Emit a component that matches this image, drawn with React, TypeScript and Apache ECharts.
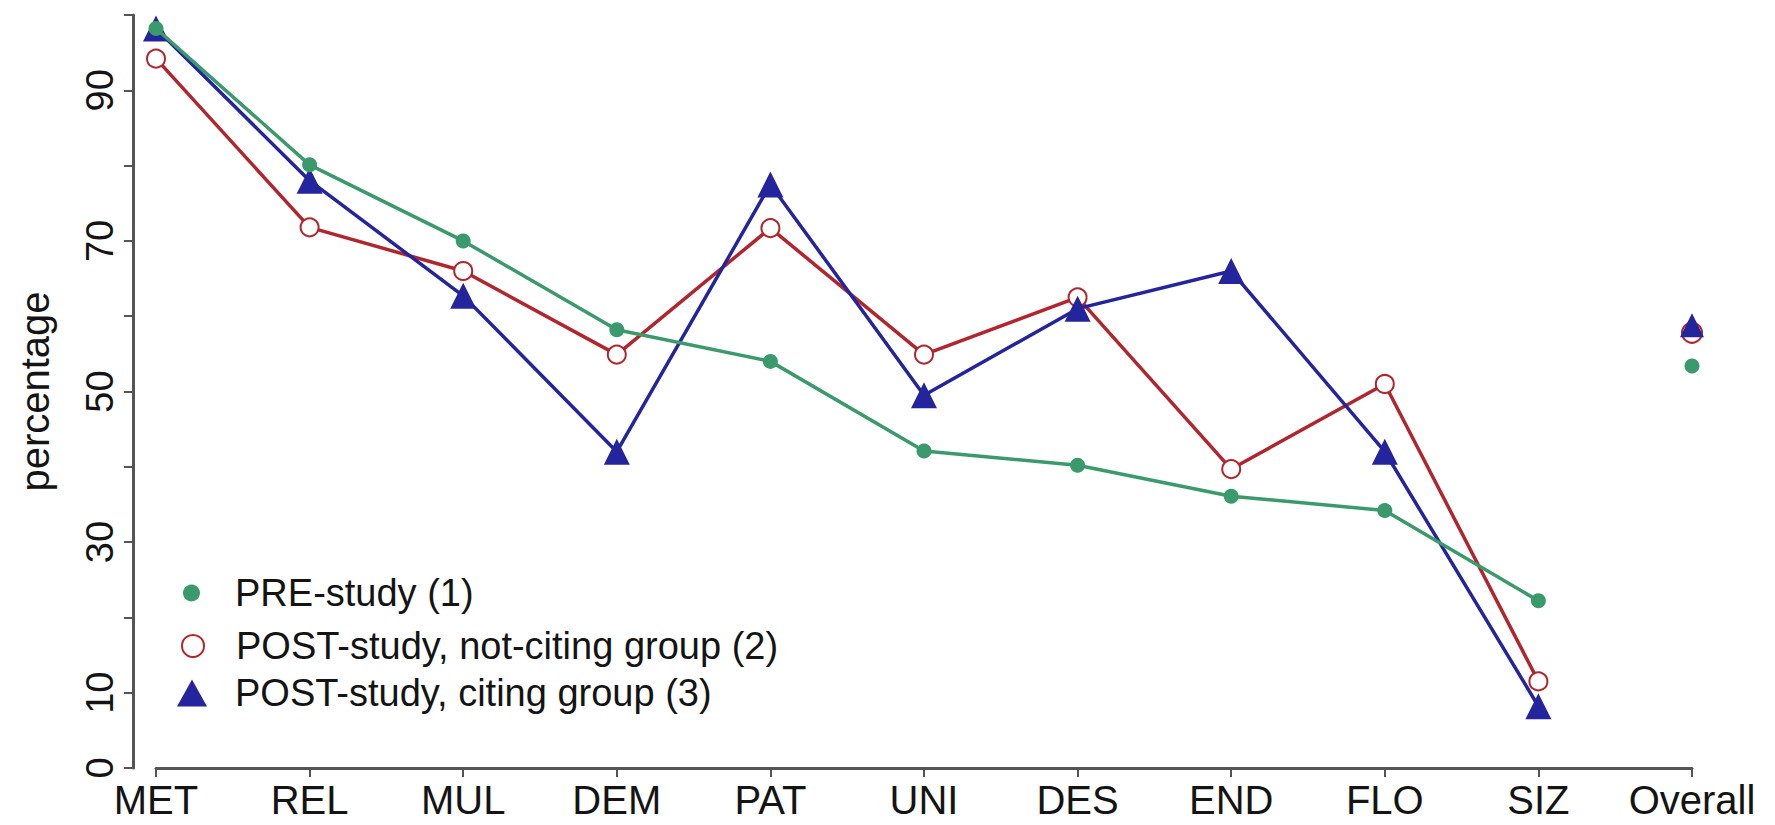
import React, { useEffect, useRef } from "react";
import * as echarts from "echarts";

const categories = ["MET", "REL", "MUL", "DEM", "PAT", "UNI", "DES", "END", "FLO", "SIZ", "Overall"];
const preStudy = [98.2, 80.1, 70.0, 58.2, 54.0, 42.1, 40.2, 36.1, 34.2, 22.2];
const postNotCiting = [94.2, 71.8, 66.0, 54.9, 71.7, 54.9, 62.5, 39.7, 51.0, 11.5];
const postCiting = [98.2, 78.0, 62.7, 42.0, 77.5, 49.5, 61.0, 66.0, 42.0, 8.2];
const overallPre = 53.4;
const overallNotCiting = 57.8;
const overallCiting = 58.8;
const yTickLabels = [0, 10, 30, 50, 70, 90];

const NAME_PRE = "PRE-study (1)";
const NAME_NOT = "POST-study, not-citing group (2)";
const NAME_CIT = "POST-study, citing group (3)";

const GREEN = "#3a9a6b";
const RED = "#b0262c";
const BLUE = "#24249c";
const AXIS = "#555555";
const TEXT = "#141414";
const FONT = "'Liberation Sans', Arial, Helvetica, sans-serif";

export default function App() {
  const ref = useRef<HTMLDivElement>(null);
  useEffect(() => {
    if (!ref.current) return;
    const chart = echarts.init(ref.current, null, { renderer: "svg" });
    const legendText = (pad: number) => ({
      fontSize: 38,
      fontFamily: FONT,
      color: TEXT,
      rich: { a: { fontSize: 38, fontFamily: FONT, color: TEXT, padding: [0, 0, 0, pad] } },
    });
    const option: any = {
      animation: false,
      backgroundColor: "#ffffff",
      textStyle: { fontFamily: FONT },
      grid: { left: 156, right: 83, top: 15, bottom: 57, containLabel: false },
      legend: [
        {
          orient: "vertical",
          left: 178,
          top: 569,
          selectedMode: false,
          itemWidth: 17,
          itemHeight: 17,
          data: [{ name: NAME_PRE, icon: "circle" }],
          itemStyle: { color: GREEN, opacity: 1 },
          formatter: (n: string) => `{a|${n}}`,
          textStyle: legendText(30),
        },
        {
          orient: "vertical",
          left: 176,
          top: 622,
          selectedMode: false,
          itemWidth: 22,
          itemHeight: 26,
          data: [{ name: NAME_NOT, icon: "emptyCircle" }],
          itemStyle: { color: RED, borderColor: RED, borderWidth: 3, opacity: 1 },
          formatter: (n: string) => `{a|${n}}`,
          textStyle: legendText(27),
        },
        {
          orient: "vertical",
          left: 172,
          top: 669,
          selectedMode: false,
          itemWidth: 30,
          itemHeight: 27,
          data: [{ name: NAME_CIT, icon: "triangle" }],
          itemStyle: { color: BLUE, opacity: 1 },
          formatter: (n: string) => `{a|${n}}`,
          textStyle: legendText(23),
        },
      ],
      xAxis: {
        type: "category",
        data: categories,
        boundaryGap: false,
        axisLine: { show: true, lineStyle: { color: AXIS, width: 3 } },
        axisTick: { show: true, interval: 0, length: 9, lineStyle: { color: AXIS, width: 2 } },
        axisLabel: { interval: 0, fontSize: 40, color: TEXT, fontFamily: FONT, margin: 12 },
        splitLine: { show: false },
      },
      yAxis: {
        type: "value",
        min: 0,
        max: 100,
        interval: 10,
        offset: 23,
        name: "percentage",
        nameLocation: "middle",
        nameRotate: 90,
        nameGap: 78,
        nameTextStyle: { fontSize: 40, color: TEXT, fontFamily: FONT },
        axisLine: { show: true, lineStyle: { color: AXIS, width: 3 } },
        axisTick: { show: true, length: 9, lineStyle: { color: AXIS, width: 2 } },
        axisLabel: {
          rotate: 90,
          fontSize: 38,
          color: TEXT,
          fontFamily: FONT,
          margin: 14,
          formatter: (v: number) => (yTickLabels.includes(v) ? String(v) : ""),
        },
        splitLine: { show: false },
      },
      series: [
        {
          name: NAME_NOT,
          type: "line",
          data: postNotCiting,
          symbol: "emptyCircle",
          symbolSize: 18,
          showAllSymbol: true,
          lineStyle: { color: RED, width: 3.5 },
          itemStyle: { color: RED, borderColor: RED, borderWidth: 2.5 },
          silent: true,
          z: 2,
        },
        {
          name: NAME_CIT,
          type: "line",
          data: postCiting,
          symbol: "triangle",
          symbolSize: 26,
          showAllSymbol: true,
          lineStyle: { color: BLUE, width: 3.5 },
          itemStyle: { color: BLUE },
          silent: true,
          z: 3,
        },
        {
          name: NAME_PRE,
          type: "line",
          data: preStudy,
          symbol: "circle",
          symbolSize: 15,
          showAllSymbol: true,
          lineStyle: { color: GREEN, width: 3.5 },
          itemStyle: { color: GREEN },
          silent: true,
          z: 4,
        },
        {
          name: "overall-not",
          type: "scatter",
          data: [[categories[10], overallNotCiting]],
          symbol: "emptyCircle",
          symbolSize: 20,
          itemStyle: { color: RED, borderColor: RED, borderWidth: 3, opacity: 1 },
          silent: true,
          z: 2,
        },
        {
          name: "overall-cit",
          type: "scatter",
          data: [[categories[10], overallCiting]],
          symbol: "triangle",
          symbolSize: 24,
          itemStyle: { color: BLUE, opacity: 1 },
          silent: true,
          z: 3,
        },
        {
          name: "overall-pre",
          type: "scatter",
          data: [[categories[10], overallPre]],
          symbol: "circle",
          symbolSize: 15,
          itemStyle: { color: GREEN, opacity: 1 },
          silent: true,
          z: 4,
        },
      ],
    };
    chart.setOption(option);
    return () => chart.dispose();
  }, []);
  return (
    <div
      ref={ref}
      style={{ position: "absolute", left: 0, top: 0, width: 1775, height: 825, background: "#fff" }}
    />
  );
}
